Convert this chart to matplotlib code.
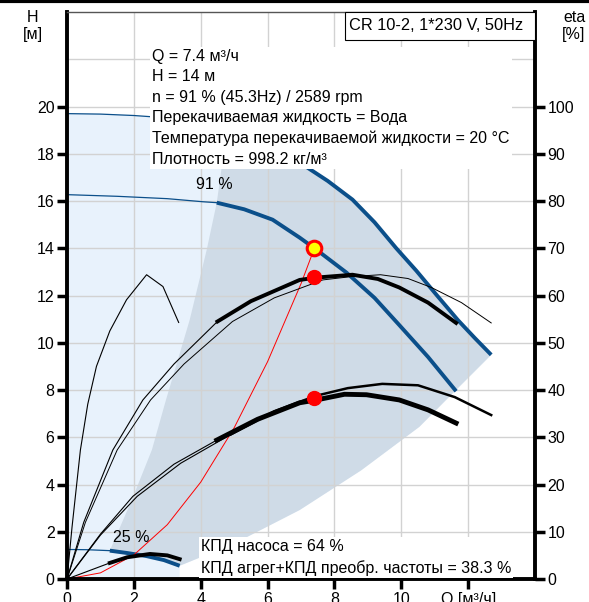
import numpy as np
import matplotlib.pyplot as plt
from matplotlib.patches import Rectangle
from matplotlib.lines import Line2D

plt.rcParams['font.family'] = ['Liberation Sans', 'DejaVu Sans']

# head curves, H [m] vs Q [m3/h]
q100 = [0, 1, 2, 3, 4, 4.8, 5.5, 6.3, 7.1, 7.8, 8.54, 9.2, 9.85, 10.45, 11.07, 11.7, 12.2, 12.69]
h100 = [19.7, 19.68, 19.62, 19.52, 19.3, 19.0, 18.7, 18.2, 17.5, 16.85, 16.06, 15.1, 14.0, 13.05, 12.0, 10.95, 10.2, 9.49]
q91 = [0, 1.5, 3, 4.06, 4.48, 5.3, 6.15, 6.96, 7.46, 8.36, 9.2, 9.94, 10.8, 11.64]
h91 = [16.27, 16.2, 16.1, 15.97, 15.93, 15.65, 15.21, 14.45, 13.94, 12.97, 11.9, 10.75, 9.4, 7.95]
q25 = [0, 0.6, 1.28, 1.8, 2.38, 2.9, 3.37]
h25 = [1.25, 1.24, 1.2, 1.1, 0.97, 0.8, 0.56]
split100, split91, split25 = 5, 4, 2  # index where the thick part starts

# efficiency curves, eta [%] vs Q
qA = [0, 0.5, 1.37, 2.27, 3.2, 4.5, 5.5, 6.96, 7.46, 8.54, 9.3, 9.94, 10.8, 11.64]
eA = [0, 12, 27.3, 37.9, 45.5, 54.5, 58.8, 63.3, 63.8, 64.4, 63.5, 61.7, 58.5, 54.2]
qB = [0, 0.55, 1.5, 2.5, 3.5, 4.95, 6.2, 7.65, 8.5, 9.38, 10.2, 10.9, 11.8, 12.69]
eB = [0, 12, 27.3, 37.9, 45.5, 54.5, 59.5, 63.3, 64.0, 64.4, 63.6, 61.7, 58.5, 54.2]
qC = [0, 1, 1.97, 3.2, 4.48, 5.7, 6.96, 7.46, 8.3, 8.96, 9.94, 10.8, 11.64]
eC = [0, 9.5, 17.5, 24.3, 29.4, 33.8, 37.3, 37.9, 39.1, 39.0, 37.9, 35.8, 33.0]
qD = [0, 1, 2.1, 3.4, 4.9, 6.2, 7.46, 8.4, 9.43, 10.5, 11.6, 12.69]
eD = [0, 9.3, 17.5, 24.5, 30.6, 35.5, 38.8, 40.4, 41.3, 41.0, 38.5, 34.7]
qE = [0, 1.28, 1.8, 2.48, 3.0, 3.37]
eE = [0, 3.4, 4.6, 5.3, 5.0, 4.2]
qF = [0, 0.15, 0.4, 0.62, 0.88, 1.28, 1.78, 2.38, 2.87, 3.34]
eF = [0, 11, 27.3, 37, 45, 52.5, 59.1, 64.4, 61.9, 54.3]

# system curve and duty point
q_sys = [0, 1, 2, 3, 4, 5, 6, 7, 7.4]
h_sys = [0, 0.26, 1.02, 2.3, 4.1, 6.4, 9.2, 12.5, 14.0]
q_duty, h_duty, eta_pump, eta_total = 7.4, 14.0, 64, 38.3

# operating range boundaries
q_left = [1.28, 1.94, 2.54, 2.96, 3.67, 4.18, 4.48, 4.63, 4.8]
h_left = [1.2, 3.35, 5.47, 7.58, 10.97, 13.94, 15.93, 17.46, 19.0]
q_right = [12.69, 11.34, 10.54, 8.8, 6.96, 5.0, 3.37]
h_right = [9.49, 7.58, 6.44, 4.6, 2.92, 1.5, 0.56]

blue = '#0b4f8a'
fs = 11.5
fig = plt.figure(figsize=(5.89, 6.02), dpi=100)
ax = fig.add_axes([0.1138, 0.0382, 0.7945, 0.9418])
ax.set_xlim(0, 14)
ax.set_ylim(0, 24)

# light area under the full speed curve, darker recommended range on top
light_x = q100 + q_right[1:] + [3.37, 0]
light_y = h100 + h_right[1:] + [0, 0]
ax.fill(light_x, light_y, color='#e8f2fc', lw=0, zorder=0.2)
dark_x = q_left + q100[split100:] + q_right[1:] + q25[::-1][1:-split25]
dark_y = h_left + h100[split100:] + h_right[1:] + h25[::-1][1:-split25]
ax.fill(dark_x, dark_y, color='#cfdbe7', lw=0, zorder=0.3)

ax.set_axisbelow(True)
ax.grid(True, color='#d2d2d2', lw=1)
ax.axhline(22, color='#d2d2d2', lw=1, zorder=0.5)

for q, h, s in [(q100, h100, split100), (q91, h91, split91), (q25, h25, split25)]:
    ax.plot(q[:s + 1], h[:s + 1], color=blue, lw=0.9)
    ax.plot(q[s:], h[s:], color=blue, lw=2.8, solid_capstyle='butt')

ax.plot(q_sys, h_sys, color='red', lw=0.7)

ax.set_xticks(np.arange(0, 13, 2))
ax.set_xticklabels(['0', '2', '4', '6', '8', '10', 'Q [м³/ч]'])
ax.set_yticks(np.arange(0, 21, 2))
ax.tick_params(direction='out', length=7, width=2.5, labelsize=fs, pad=2)
for s in ['left', 'bottom']:
    ax.spines[s].set_linewidth(2.8)
ax.spines['right'].set_visible(False)
ax.spines['top'].set_linewidth(1)
ax.spines['top'].set_color('#555555')

ax2 = ax.twinx()
ax2.set_ylim(0, 120)
ax2.set_yticks(np.arange(0, 101, 10))
ax2.tick_params(direction='out', length=7, width=2.5, labelsize=fs, pad=2)
for s in ['left', 'bottom', 'top']:
    ax2.spines[s].set_visible(False)
ax2.spines['right'].set_linewidth(2.8)

# pump efficiency (thin full speed, thick at 91 %) and total efficiency
ax2.plot(qA[:6], eA[:6], color='black', lw=0.8)
ax2.plot(qA[5:], eA[5:], color='black', lw=2.8)
ax2.plot(qB, eB, color='black', lw=0.7)
ax2.plot(qC[:5], eC[:5], color='black', lw=0.8)
ax2.plot(qC[4:], eC[4:], color='black', lw=3.5)
ax2.plot(qD[:5], eD[:5], color='black', lw=0.8)
ax2.plot(qD[4:], eD[4:], color='black', lw=1.8)
ax2.plot(qE[:2], eE[:2], color='black', lw=0.8)
ax2.plot(qE[1:], eE[1:], color='black', lw=2.8)
ax2.plot(qF, eF, color='black', lw=0.8)

ax2.plot([q_duty], [eta_pump], 'o', color='red', ms=10, zorder=5)
ax2.plot([q_duty], [eta_total], 'o', color='red', ms=10, zorder=5)
ax2.plot([q_duty], [h_duty * 5], 'o', mfc='yellow', mec='red', mew=2.2, ms=10.5, zorder=5)

ax2.text(4.4, 16.7 * 5, '91 %', ha='center', va='center', fontsize=fs, zorder=6)
ax2.text(1.92, 1.75 * 5, '25 %', ha='center', va='center', fontsize=fs, zorder=6)

info = ('Q = 7.4 м³/ч\nH = 14 м\nn = 91 % (45.3Hz) / 2589 rpm\n'
        'Перекачиваемая жидкость = Вода\n'
        'Температура перекачиваемой жидкости = 20 °C\n'
        'Плотность = 998.2 кг/м³')
fig.text(152 / 589, 1 - 49 / 602, info, ha='left', va='top', fontsize=fs, linespacing=1.45,
         bbox=dict(fc='white', ec='none', pad=1.5), zorder=10)
fig.text(201 / 589, 1 - 539 / 602, 'КПД насоса = 64 %\nКПД агрег+КПД преобр. частоты = 38.3 %',
         ha='left', va='top', fontsize=fs, linespacing=1.45,
         bbox=dict(fc='white', ec='none', pad=1.5), zorder=10)

fig.patches.append(Rectangle((345 / 589, 1 - 40 / 602), 190 / 589, 28 / 602, transform=fig.transFigure,
                             fc='white', ec='black', lw=0.8, zorder=10))
fig.text(349 / 589, 1 - 26 / 602, 'CR 10-2, 1*230 V, 50Hz', ha='left', va='center', fontsize=11.8, zorder=11)

fig.text(33 / 589, 1 - 18 / 602, 'H', ha='center', va='center', fontsize=fs)
fig.text(33 / 589, 1 - 35 / 602, '[м]', ha='center', va='center', fontsize=fs)
fig.text(574 / 589, 1 - 18 / 602, 'eta', ha='center', va='center', fontsize=fs)
fig.text(574 / 589, 1 - 35 / 602, '[%]', ha='center', va='center', fontsize=fs)

fig.lines.append(Line2D([0, 1], [0.998, 0.998], transform=fig.transFigure, color='black', lw=3))

fig.savefig('out.png', dpi=100)
